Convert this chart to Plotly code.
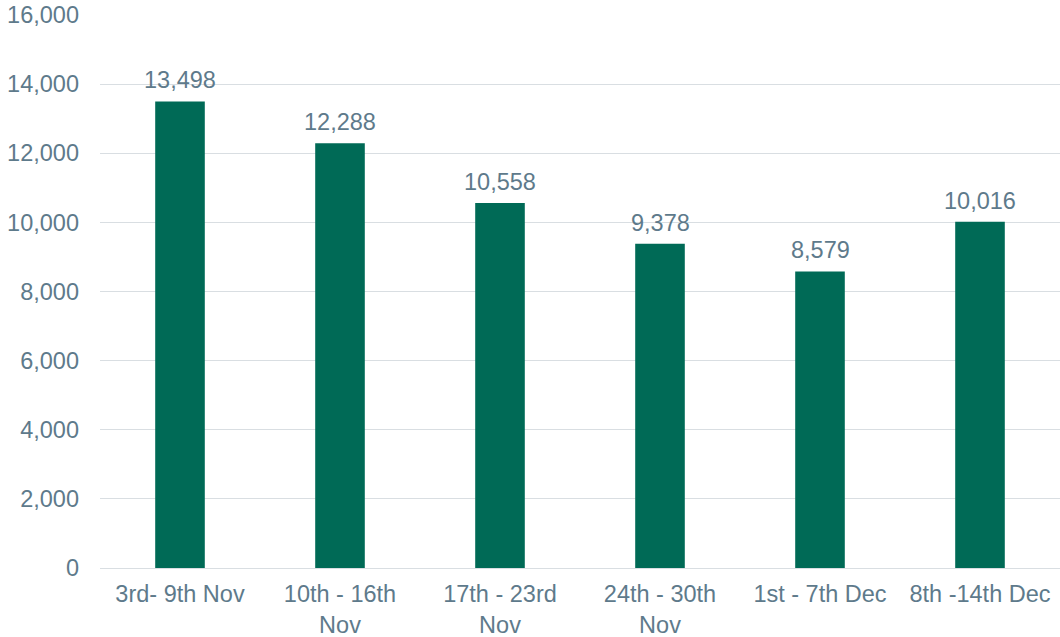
import plotly.graph_objects as go

categories = ["3rd- 9th Nov", "10th - 16th<br>Nov", "17th - 23rd<br>Nov",
              "24th - 30th<br>Nov", "1st - 7th Dec", "8th -14th Dec"]
values = [13498, 12288, 10558, 9378, 8579, 10016]
y_ticks = [0, 2000, 4000, 6000, 8000, 10000, 12000, 14000, 16000]

text_color = "#5E7A8B"
bar_color = "#006A56"
grid_color = "#D9DEE2"
font_family = "Liberation Sans, Arial, sans-serif"
fsize = 23.5

fig = go.Figure(go.Bar(
    x=categories, y=values,
    marker=dict(color=bar_color, line=dict(width=0)),
    cliponaxis=False,
    hoverinfo="x+y",
))

for c, v in zip(categories, values):
    fig.add_annotation(x=c, y=v, text=f"{v:,}", showarrow=False,
                       yanchor="bottom", yshift=6,
                       font=dict(family=font_family, size=fsize, color=text_color))

fig.update_layout(
    width=1060, height=637,
    margin=dict(l=100, r=0, t=15, b=69, autoexpand=False),
    paper_bgcolor="white", plot_bgcolor="white",
    bargap=0.69,
    showlegend=False,
    font=dict(family=font_family, size=fsize, color=text_color),
    xaxis=dict(showgrid=False, showline=True, linecolor=grid_color, linewidth=1,
               ticks="", automargin=False, ticklabelstandoff=5,
               tickfont=dict(size=fsize, color=text_color)),
    yaxis=dict(range=[0, 16000], tickvals=y_ticks, tickformat=",",
               showgrid=True, gridcolor=grid_color, gridwidth=1,
               zeroline=False, showline=False, ticks="", automargin=False,
               ticklabelstandoff=20,
               tickfont=dict(size=fsize, color=text_color)),
)

fig.write_html("out.html",
               config={"displayModeBar": False},
               post_script="document.body.style.margin='0';document.body.style.overflow='hidden';")
